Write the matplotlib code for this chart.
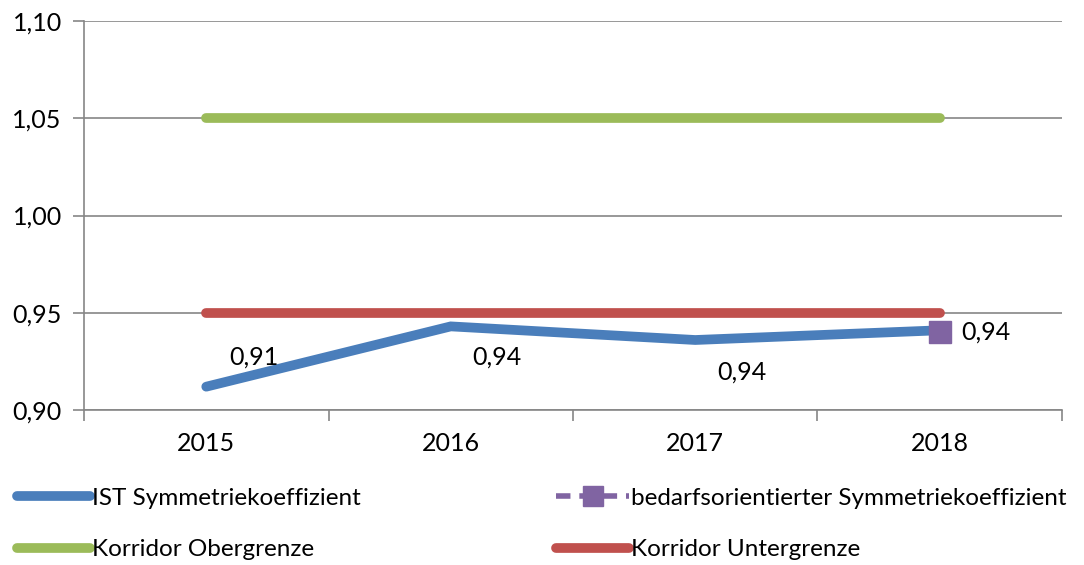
import numpy as np
import matplotlib
matplotlib.use("Agg")
import matplotlib.pyplot as plt
from matplotlib.lines import Line2D

plt.rcParams['font.family'] = ['Lato', 'DejaVu Sans']

years = ["2015", "2016", "2017", "2018"]
ist = [0.912, 0.943, 0.936, 0.941]
bedarf = [np.nan, np.nan, np.nan, 0.940]
obergrenze = [1.05, 1.05, 1.05, 1.05]
untergrenze = [0.95, 0.95, 0.95, 0.95]
ist_labels = ["0,91", "0,94", "0,94", "0,94"]

blue = "#4A7EBB"
green = "#9BBB59"
red = "#C0504D"
purple = "#8064A2"
grey = "#868686"

fig = plt.figure(figsize=(10.84, 5.65), dpi=100)
ax = fig.add_axes([0.0775, 0.2743, 0.9022, 0.6885])

x = np.arange(len(years))
ax.plot(x, obergrenze, color=green, lw=7, solid_capstyle="round", zorder=3)
ax.plot(x, untergrenze, color=red, lw=7, solid_capstyle="round", zorder=3)
ax.plot(x, ist, color=blue, lw=7, solid_capstyle="round", solid_joinstyle="miter", zorder=4)
ax.plot(x, bedarf, color=purple, lw=0, marker="s", markersize=16.5, zorder=5)

# data labels (Excel style positions)
offsets = [(0.196, 0.015), (0.19, -0.016), (0.19, -0.0165), (0.19, 0.0)]
for i, (dx, dy) in enumerate(offsets):
    base = ist[i] if i < 3 else bedarf[i]
    ax.text(x[i] + dx, base + dy, ist_labels[i],
            fontsize=18, ha="center", va="center", color="black", zorder=6)

ax.set_xlim(-0.5, 3.5)
ax.set_ylim(0.90, 1.10)
yt = [0.90, 0.95, 1.00, 1.05, 1.10]
ax.set_yticks(yt)
ax.set_yticklabels([f"{v:.2f}".replace(".", ",") for v in yt], fontsize=18)
ax.yaxis.grid(True, color=grey, lw=1.2)
ax.set_axisbelow(True)

ax.set_xticks(x)
ax.set_xticklabels(years, fontsize=18)
ax.tick_params(axis="x", which="major", length=0, pad=16)
ax.set_xticks(np.arange(-0.5, 4.0, 1.0), minor=True)
ax.tick_params(axis="x", which="minor", length=8, color=grey, width=1.2, direction="out")
ax.tick_params(axis="y", length=8, color=grey, width=1.2, pad=8)

for s in ["top", "right"]:
    ax.spines[s].set_visible(False)
for s in ["left", "bottom"]:
    ax.spines[s].set_color(grey)
    ax.spines[s].set_linewidth(1.2)

col1 = [Line2D([], [], color=blue, lw=7, solid_capstyle="round"),
        Line2D([], [], color=green, lw=7, solid_capstyle="round")]
col2 = [Line2D([], [], color=purple, lw=4, ls=(0, (2.6, 1.6)), marker="s", markersize=15),
        Line2D([], [], color=red, lw=7, solid_capstyle="round")]
lab1 = ["IST Symmetriekoeffizient", "Korridor Obergrenze"]
lab2 = ["bedarfsorientierter Symmetriekoeffizient", "Korridor Untergrenze"]

leg_kw = dict(loc="center left", frameon=False, fontsize=17.5, handlelength=3.0,
              handletextpad=0.1, labelspacing=1.25, borderaxespad=0, borderpad=0)
fig.legend(col1, lab1, bbox_to_anchor=(0.0157, 0.0726), **leg_kw)
fig.legend(col2, lab2, bbox_to_anchor=(0.513, 0.0726), **leg_kw)

fig.savefig("out.png", dpi=100)
